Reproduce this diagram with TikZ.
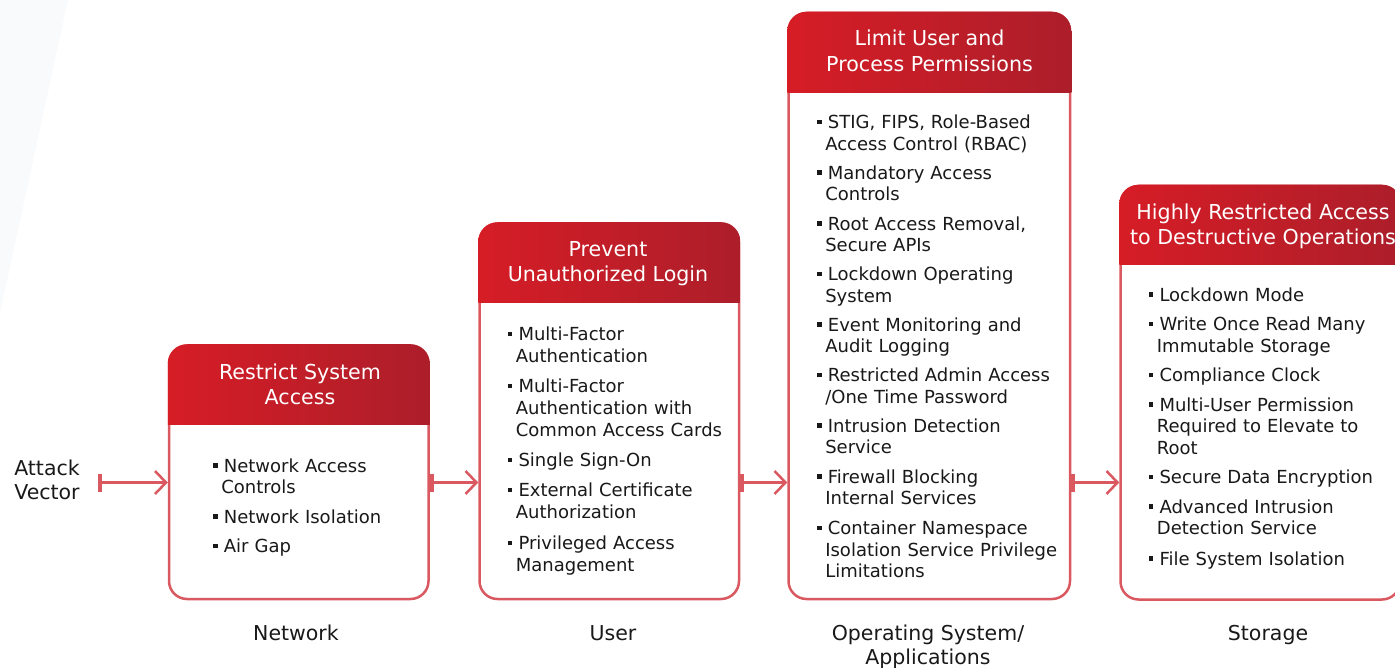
\documentclass[tikz,border=0pt]{standalone}
\usepackage{fontspec}
\setmainfont{DejaVu Sans}
\usetikzlibrary{arrows.meta,calc}
\definecolor{bord}{RGB}{218,88,96}
\definecolor{hdl}{RGB}{214,29,38}
\definecolor{hdr}{RGB}{172,30,42}
\definecolor{txt}{RGB}{25,25,25}
\definecolor{bgf}{RGB}{249,250,252}
\newcommand\fitm[1]{\noindent\strut\makebox[8.4pt][l]{\raisebox{4.4pt}{\rule{4.6pt}{4.6pt}}}\parbox[t]{250pt}{\hspace*{2.6pt}#1\strut}}
\newcommand\itm[1]{\par\fitm{#1}}
\newcommand\lstsetup[1][8pt]{\setlength\parskip{#1}\setlength\lineskip{0pt}\setlength\lineskiplimit{0pt}}
\tikzset{
  box/.style={draw=bord, line width=2.5pt, fill=white, rounded corners=18pt, inner sep=0pt, anchor=north west},
  hd/.style={align=center, text=white, font=\fontsize{20.6}{25.5}\selectfont, inner sep=0pt},
  lst/.style={anchor=north west, inner sep=0pt, text width=270pt, align=left, font=\fontsize{18}{21.5}\selectfont, text=txt},
  lbl/.style={align=center, text=txt, font=\fontsize{20.5}{24}\selectfont, inner sep=0pt},
  arr/.style={draw=bord, line width=2.5pt, {Bar[width=18pt,line width=4pt]}-{Straight Barb[length=11pt,width=23pt,line width=2.5pt]}},
}
\begin{document}
\begin{tikzpicture}[x=1pt,y=-1pt]
\useasboundingbox (0,0) rectangle (1395,668);
\fill[bgf] (0,0) -- (68,0) -- (0,313) -- cycle;

% boxes
\node[box, minimum width=259.5pt, minimum height=253.5pt] (b1) at (167.75,344.25) {};
\node[box, minimum width=259.5pt, minimum height=375.5pt] (b2) at (478.25,222.25) {};
\node[box, minimum width=281.5pt, minimum height=586pt] (b3) at (787.25,11.75) {};
\node[box, minimum width=279.5pt, minimum height=413.5pt] (b4) at (1119.25,184.75) {};

\foreach \b/\h in {b1/424.5, b2/302.7, b3/92.3, b4/265}{
  \begin{scope}
    \clip[rounded corners=19.25pt] (\b.north west) rectangle (\b.south east);
    \shade[left color=hdl, right color=hdr] (\b.north west) rectangle (\b.east |- 0,\h);
  \end{scope}
}

% headers
\node[hd] (h1) at (300,386.8) {\strut Restrict System\\\strut Access};
\node[hd] (h2) at (608,263.7) {\strut Prevent\\\strut Unauthorized Login};
\node[hd] (h3) at (929.5,53.4) {\strut Limit User and\\\strut Process Permissions};
\node[hd] (h4) at (1263,226.8) {\strut Highly Restricted Access\\\strut to Destructive Operations};

% lists
\node[lst] (l1) at (212.7,456.9) {\lstsetup%
\fitm{Network Access\\Controls}%
\itm{Network Isolation}%
\itm{Air Gap}};
\node[lst, font=\fontsize{18}{22}\selectfont] (l2) at (507.3,325.2) {\lstsetup%
\fitm{Multi-Factor\\Authentication}%
\itm{Multi-Factor\\Authentication with\\Common Access Cards}%
\itm{Single Sign-On}%
\itm{External Certificate\\Authorization}%
\itm{Privileged Access\\Management}};
\node[lst] (l3) at (816.7,113.6) {\lstsetup[7.6pt]%
\fitm{STIG, FIPS, Role-Based\\Access Control (RBAC)}%
\itm{Mandatory Access\\Controls}%
\itm{Root Access Removal,\\Secure APIs}%
\itm{Lockdown Operating\\System}%
\itm{Event Monitoring and\\Audit Logging}%
\itm{Restricted Admin Access\\/One Time Password}%
\itm{Intrusion Detection\\Service}%
\itm{Firewall Blocking\\Internal Services}%
\itm{Container Namespace\\Isolation Service Privilege\\Limitations}};
\node[lst] (l4) at (1148.3,285.8) {\lstsetup%
\fitm{Lockdown Mode}%
\itm{Write Once Read Many\\Immutable Storage}%
\itm{Compliance Clock}%
\itm{Multi-User Permission\\Required to Elevate to\\Root}%
\itm{Secure Data Encryption}%
\itm{Advanced Intrusion\\Detection Service}%
\itm{File System Isolation}};

% labels
\node[lbl] (av) at (47,483) {\strut Attack\\\strut Vector};
\node[lbl, anchor=base] (n1) at (296,640.5) {Network};
\node[lbl, anchor=base] (n2) at (613,640.5) {User};
\node[lbl, anchor=north] (n3) at (928,623.7) {\strut Operating System/\\\strut Applications};
\node[lbl, anchor=base] (n4) at (1268,640.5) {Storage};

% connectors
\coordinate (avs) at (98,482.5);
\draw[arr] (avs) -- (b1.west |- avs);
\draw[arr] (b1.east |- avs) -- (b2.west |- avs);
\draw[arr] (b2.east |- avs) -- (b3.west |- avs);
\draw[arr] (b3.east |- avs) -- (b4.west |- avs);
\end{tikzpicture}
\end{document}
